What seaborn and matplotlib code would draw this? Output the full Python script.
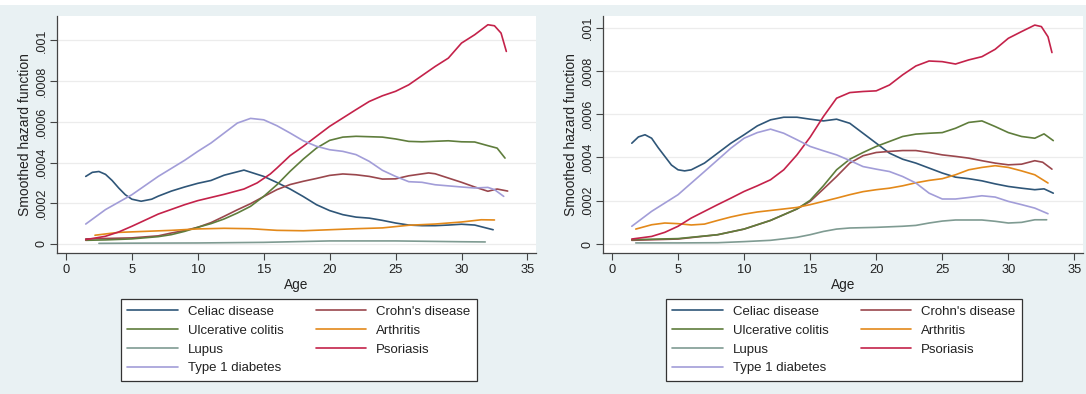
import numpy as np
import pandas as pd
import matplotlib
matplotlib.use("Agg")
import matplotlib.pyplot as plt
from matplotlib.lines import Line2D
from matplotlib.patches import Rectangle
import seaborn as sns

SCALE = 1e-4  # values below are in units of 1e-4

diseases = ["Celiac disease", "Crohn's disease", "Ulcerative colitis", "Arthritis",
            "Lupus", "Psoriasis", "Type 1 diabetes"]
colors = ["#2f5678", "#9a474d", "#5f7d3c", "#e3891a", "#7f9b92", "#c4224a", "#a29dd8"]

# ---------------- left panel ----------------
left_celiac_x = [1.5, 2.0, 2.5, 3, 3.5, 4, 4.5, 5, 5.7, 6.5, 7, 8, 9, 10, 11, 12, 13.5, 15, 16, 17, 18, 19, 20, 21, 22, 23, 24, 25, 26, 27, 28, 29, 30, 31, 32.4]
left_celiac_y = [3.32, 3.52, 3.56, 3.42, 3.12, 2.75, 2.42, 2.2, 2.1, 2.2, 2.35, 2.6, 2.8, 2.98, 3.12, 3.38, 3.63, 3.32, 3.02, 2.7, 2.33, 1.93, 1.64, 1.44, 1.32, 1.27, 1.16, 1.03, 0.93, 0.9, 0.9, 0.93, 0.97, 0.93, 0.70]
left_crohn_x = [1.5, 3, 5, 7, 8, 9, 10, 11, 12, 13, 14, 15, 16, 17, 18, 19, 20, 21, 22, 23, 24, 25, 26, 27.5, 28, 29, 30, 31, 32, 32.7, 33.5]
left_crohn_y = [0.25, 0.27, 0.30, 0.40, 0.54, 0.66, 0.82, 1.05, 1.36, 1.68, 1.98, 2.33, 2.67, 2.92, 3.08, 3.22, 3.37, 3.44, 3.40, 3.32, 3.19, 3.20, 3.35, 3.49, 3.45, 3.24, 3.03, 2.80, 2.59, 2.70, 2.60]
left_uc_x = [1.5, 3, 5, 7, 8, 9, 10, 11, 12, 13, 14, 15, 16, 17, 18, 19, 20, 21, 22, 24, 25, 26, 27, 29, 30, 31, 32, 32.7, 33.3]
left_uc_y = [0.18, 0.20, 0.25, 0.36, 0.46, 0.62, 0.82, 1.0, 1.23, 1.52, 1.85, 2.34, 2.91, 3.57, 4.17, 4.71, 5.09, 5.25, 5.29, 5.25, 5.16, 5.04, 5.02, 5.07, 5.02, 5.01, 4.83, 4.71, 4.22]
left_arth_x = [2.2, 4, 6, 8, 10, 12, 14, 16, 18, 20, 22, 24, 26, 28, 30, 31.5, 32.5]
left_arth_y = [0.43, 0.57, 0.62, 0.67, 0.74, 0.77, 0.75, 0.67, 0.65, 0.70, 0.75, 0.79, 0.92, 0.98, 1.08, 1.19, 1.18]
left_lupus_x = [2.5, 5, 10, 15, 20, 25, 30, 31.8]
left_lupus_y = [0.03, 0.04, 0.05, 0.08, 0.15, 0.15, 0.11, 0.10]
left_psor_x = [1.5, 3, 4, 5, 7, 9, 10, 12, 13.5, 14.5, 15.5, 16, 17, 18, 19, 20, 21, 22, 23, 24, 25, 26, 27, 28, 29, 30, 31, 32, 32.5, 33, 33.4]
left_psor_y = [0.21, 0.38, 0.59, 0.87, 1.47, 1.93, 2.13, 2.44, 2.70, 3.0, 3.44, 3.73, 4.34, 4.80, 5.29, 5.78, 6.19, 6.60, 7.00, 7.28, 7.50, 7.82, 8.27, 8.72, 9.13, 9.87, 10.28, 10.77, 10.72, 10.36, 9.46]
left_t1d_x = [1.5, 3, 5, 7, 9, 10, 11, 12, 13, 14, 15, 16, 17, 18, 19, 20, 21, 22, 23, 24, 25, 26, 27, 28, 30, 31, 32, 32.5, 33.2]
left_t1d_y = [0.98, 1.69, 2.42, 3.32, 4.11, 4.55, 4.96, 5.45, 5.94, 6.17, 6.10, 5.81, 5.45, 5.07, 4.80, 4.63, 4.55, 4.39, 4.06, 3.62, 3.32, 3.06, 3.03, 2.91, 2.80, 2.75, 2.78, 2.67, 2.34]

# ---------------- right panel ----------------
right_celiac_x = [1.5, 2.0, 2.5, 3, 3.5, 4, 4.5, 5, 5.5, 6, 7, 8, 9, 10, 11, 12, 13, 14, 15, 16, 17, 18, 19, 20, 21, 22, 23, 24, 25, 26, 27, 28, 29, 30, 31, 32, 32.7, 33.4]
right_celiac_y = [4.66, 4.95, 5.05, 4.89, 4.45, 4.05, 3.65, 3.43, 3.38, 3.43, 3.74, 4.20, 4.66, 5.05, 5.46, 5.74, 5.86, 5.86, 5.77, 5.69, 5.77, 5.58, 5.12, 4.66, 4.20, 3.92, 3.74, 3.51, 3.28, 3.09, 3.02, 2.92, 2.78, 2.66, 2.58, 2.51, 2.55, 2.35]
right_crohn_x = [1.5, 5, 8, 10, 12, 14, 15, 16, 17, 18, 19, 20, 21, 22, 23, 24, 25, 26, 27, 28, 29, 30, 31, 32, 32.6, 33.3]
right_crohn_y = [0.17, 0.23, 0.43, 0.69, 1.09, 1.62, 1.97, 2.54, 3.12, 3.74, 4.08, 4.23, 4.28, 4.32, 4.32, 4.23, 4.12, 4.05, 3.97, 3.85, 3.74, 3.66, 3.69, 3.85, 3.78, 3.46]
right_uc_x = [1.5, 5, 8, 10, 12, 14, 15, 16, 17, 18, 19, 20, 21, 22, 23, 24, 25, 26, 27, 28, 29, 30, 31, 32, 32.7, 33.4]
right_uc_y = [0.20, 0.25, 0.43, 0.69, 1.09, 1.62, 2.02, 2.69, 3.43, 3.92, 4.23, 4.51, 4.74, 4.97, 5.08, 5.12, 5.15, 5.35, 5.62, 5.69, 5.43, 5.15, 4.97, 4.89, 5.09, 4.78]
right_arth_x = [1.8, 3, 4, 5, 6, 7, 8, 9, 10, 11, 12, 13, 14, 15, 16, 17, 18, 19, 20, 21, 22, 23, 24, 25, 26, 27, 28, 29, 30, 31, 32, 33]
right_arth_y = [0.69, 0.89, 0.97, 0.94, 0.88, 0.92, 1.09, 1.25, 1.38, 1.48, 1.55, 1.62, 1.69, 1.82, 1.97, 2.12, 2.28, 2.42, 2.51, 2.58, 2.69, 2.83, 2.94, 3.02, 3.20, 3.43, 3.54, 3.62, 3.54, 3.38, 3.20, 2.82]
right_lupus_x = [1.8, 5, 8, 10, 12, 14, 15, 16, 17, 18, 20, 22, 23, 24, 25, 26, 28, 29, 30, 31, 32, 32.9]
right_lupus_y = [0.05, 0.05, 0.06, 0.11, 0.17, 0.31, 0.43, 0.58, 0.69, 0.74, 0.77, 0.82, 0.86, 0.97, 1.06, 1.11, 1.11, 1.05, 0.97, 1.0, 1.12, 1.12]
right_psor_x = [1.5, 3, 4, 5, 6, 7, 8, 9, 10, 11, 12, 13, 14, 15, 16, 17, 18, 19, 20, 21, 22, 23, 24, 25, 26, 27, 28, 29, 30, 31, 32, 32.5, 33, 33.3]
right_psor_y = [0.23, 0.35, 0.54, 0.82, 1.20, 1.51, 1.82, 2.12, 2.43, 2.69, 2.97, 3.43, 4.12, 4.94, 5.89, 6.74, 7.00, 7.05, 7.08, 7.35, 7.82, 8.23, 8.46, 8.43, 8.32, 8.51, 8.66, 9.0, 9.51, 9.82, 10.12, 10.05, 9.58, 8.85]
right_t1d_x = [1.5, 3, 5, 7, 9, 10, 11, 12, 13, 14, 15, 16, 17, 18, 19, 20, 21, 22, 23, 24, 25, 26, 27, 28, 29, 30, 31, 32, 33]
right_t1d_y = [0.82, 1.51, 2.28, 3.35, 4.43, 4.89, 5.15, 5.31, 5.12, 4.82, 4.51, 4.31, 4.12, 3.86, 3.58, 3.46, 3.35, 3.12, 2.82, 2.35, 2.08, 2.08, 2.15, 2.23, 2.17, 1.97, 1.82, 1.66, 1.40]

x_ticks = [0, 5, 10, 15, 20, 25, 30, 35]
y_ticks = [0, 0.0002, 0.0004, 0.0006, 0.0008, 0.001]
y_tick_labels = ["0", ".0002", ".0004", ".0006", ".0008", ".001"]

left_series = [(left_celiac_x, left_celiac_y), (left_crohn_x, left_crohn_y), (left_uc_x, left_uc_y),
               (left_arth_x, left_arth_y), (left_lupus_x, left_lupus_y), (left_psor_x, left_psor_y),
               (left_t1d_x, left_t1d_y)]
right_series = [(right_celiac_x, right_celiac_y), (right_crohn_x, right_crohn_y), (right_uc_x, right_uc_y),
                (right_arth_x, right_arth_y), (right_lupus_x, right_lupus_y), (right_psor_x, right_psor_y),
                (right_t1d_x, right_t1d_y)]


def to_frame(series):
    rows = []
    for name, (xs, ys) in zip(diseases, series):
        for xv, yv in zip(xs, ys):
            rows.append({"Age": xv, "hazard": yv * SCALE, "disease": name})
    return pd.DataFrame(rows)


sns.set_theme(style="white")
plt.rcParams["font.family"] = ["Liberation Sans", "DejaVu Sans"]

BG = "#e9f1f3"
fig = plt.figure(figsize=(10.86, 3.94), dpi=100, facecolor=BG)
fig.patches.append(Rectangle((0, 1 - 5 / 394), 1, 5 / 394, transform=fig.transFigure,
                             facecolor="white", edgecolor="none", zorder=-1))

palette = dict(zip(diseases, colors))
panels = [
    (left_series, [57 / 1086, 1 - 253 / 394, 479 / 1086, 237 / 394], (-4.43e-5, 1.12e-3), 299 / 1086),
    (right_series, [603 / 1086, 1 - 253 / 394, 480 / 1086, 237 / 394], (-4.16e-5, 1.054e-3), 844 / 1086),
]

legend_order = [0, 2, 4, 6, 1, 3, 5]
TXT = "#222222"

for series, rect, ylim, leg_cx in panels:
    ax = fig.add_axes(rect)
    ax.set_facecolor("white")
    df = to_frame(series)
    for yt in y_ticks:
        ax.axhline(yt, color="#ececec", lw=0.9, zorder=0)
    sns.lineplot(data=df, x="Age", y="hazard", hue="disease", palette=palette,
                 hue_order=diseases, estimator=None, sort=False, lw=1.2, legend=False, ax=ax)
    ax.set_xlim(-0.68, 35.65)
    ax.set_ylim(*ylim)
    ax.set_xticks(x_ticks)
    ax.set_xticklabels([str(t) for t in x_ticks], fontsize=9.3, color=TXT)
    ax.set_yticks(y_ticks)
    ax.set_yticklabels(y_tick_labels, fontsize=9.0, color=TXT, rotation=90, va="center")
    ax.tick_params(axis="x", direction="out", length=5, width=0.8, color="#444444", bottom=True, pad=3)
    ax.tick_params(axis="y", direction="out", length=5, width=0.8, color="#444444", left=True, pad=1.5)
    for side in ["top", "right"]:
        ax.spines[side].set_visible(False)
    for side in ["left", "bottom"]:
        ax.spines[side].set_color("#444444")
        ax.spines[side].set_linewidth(0.9)
    ax.set_xlabel("Age", fontsize=9.8, color=TXT, labelpad=1)
    ax.set_ylabel("Smoothed hazard function", fontsize=10.0, color=TXT, labelpad=3)

    handles = [Line2D([0], [0], color=colors[i], lw=1.2) for i in legend_order]
    labels = [diseases[i] for i in legend_order]
    leg = ax.legend(handles, labels, ncol=2, loc="center",
                    bbox_to_anchor=(leg_cx, 1 - 340 / 394),
                    bbox_transform=fig.transFigure,
                    fontsize=9.5, frameon=True, fancybox=False, framealpha=1,
                    edgecolor="#333333", handlelength=3.8, handletextpad=0.75,
                    columnspacing=2.5, labelspacing=0.5, borderpad=0.5, borderaxespad=0)
    leg.get_frame().set_linewidth(0.9)
    for t in leg.get_texts():
        t.set_color(TXT)

fig.savefig("out.png", dpi=100, facecolor=BG)
